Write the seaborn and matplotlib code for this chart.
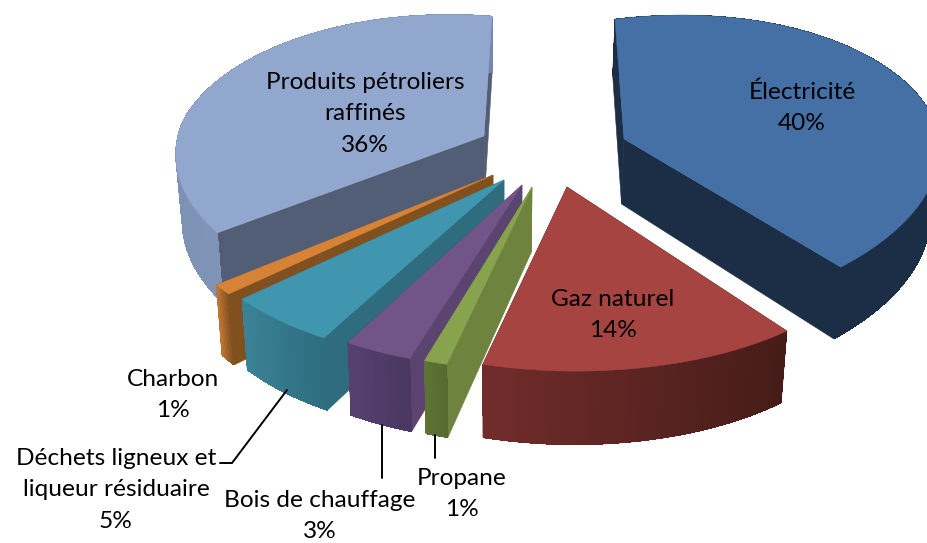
import numpy as np
import matplotlib
matplotlib.use("Agg")
import matplotlib.pyplot as plt
from matplotlib.collections import PolyCollection
import seaborn as sns

# ---- data ----
names = ["Électricité", "Gaz naturel", "Propane", "Bois de chauffage",
         "Déchets ligneux et\nliqueur résiduaire", "Charbon",
         "Produits pétroliers\nraffinés"]
shares = [40, 14, 1, 3, 5, 1, 36]

# ---- colours: top face, radial wall, outer wall (light end, dark end) ----
top_col = ["#4470A6", "#A64442", "#87A34D", "#715589", "#4096AE", "#D68237", "#92A7CE"]
wall_col = ["#1C2E46", "#451C19", "#6D833E", "#5B446F", "#2F6C7E", "#81501F", "#525E75"]
outer_a = ["#1C2E46", "#451C19", "#566A32", "#4A3860", "#2E6E80", "#81501F", "#8094B8"]
outer_b = ["#1C2E46", "#702C2A", "#5E7236", "#564070", "#3C8296", "#BC7432", "#7488AC"]

# ---- layout of each slice (pixels) ----
apex_x = [624, 567, 532, 522, 504, 493, 484]
apex_y = [139, 187, 187, 185, 180, 175, 136]
scale_x = [1.02, 1.0, 1.0, 1.0, 1.02, 1.03, 1.0]
tilt = [-27, 0, 0, 0, 0, 0, 17]
lean_back = [9, 0, 0, 0, 0, 0, -8]
lean_front = [0, 9, 8, 3, 0, 0, 3]
label_xy = [(802, 108), (613, 315), (462, 494), (320, 516), (116, 490), (173, 395), (365, 114)]
draw_order = [6, 5, 4, 3, 2, 1, 0]

RX, RY, KX, KY = 300.0, 152.0, 0.254, 0.2115
VANISH_X = 500.0


def top_point(i, theta):
    u, v = np.sin(theta), -np.cos(theta)
    lean = lean_back[i] * np.minimum(v, 0) + lean_front[i] * np.maximum(v, 0)
    x = apex_x[i] + RX * scale_x[i] * u * (1 + KX * v) + lean
    y = apex_y[i] + RY * v * (1 + KY * v) + tilt[i] * u
    return x, y, v


def bottom_point(x, y, v):
    return x + (VANISH_X - x) * 0.02, y + 65 + 8.5 * v


sns.set_theme(style="white")
plt.rcParams["font.family"] = ["Lato", "DejaVu Sans"]
fig = plt.figure(figsize=(9.28, 5.43), dpi=100)
ax = fig.add_axes([0, 0, 1, 1])
ax.set_xlim(0, 928)
ax.set_ylim(543, 0)
ax.axis("off")

edges = np.concatenate([[0], np.cumsum(shares)]) / sum(shares) * 2 * np.pi

for i in draw_order:
    t0, t1 = edges[i], edges[i + 1]
    n = max(int(np.degrees(t1 - t0)), 8)
    th = np.linspace(t0, t1, n * 4 + 1)
    xs, ys, vs = top_point(i, th)
    bx, by = bottom_point(xs, ys, vs)
    ax0, ay0 = apex_x[i], apex_y[i]
    bax, bay = bottom_point(ax0, ay0, 0.0)
    base = draw_order.index(i) * 10

    # radial walls: the far one first
    for k in (-1, 0):
        ax.fill([ax0, xs[k], bx[k], bax], [ay0, ys[k], by[k], bay],
                color=wall_col[i], lw=0.4, zorder=base + 1)
    # outer wall: one solid underlay, then overlapping shaded bands
    shades = sns.blend_palette([outer_a[i], outer_b[i]], n)
    ax.fill(np.r_[xs, bx[::-1]], np.r_[ys, by[::-1]], color=shades[n // 2], lw=0.4, zorder=base + 2)
    quads = []
    for j in range(n):
        a, b = j * 4, (j + 1) * 4 + 1
        quads.append(np.column_stack([np.r_[xs[a:b], bx[a:b][::-1]], np.r_[ys[a:b], by[a:b][::-1]]]))
    ax.add_collection(PolyCollection(quads, facecolors=shades, edgecolors="none", antialiaseds=False,
                                     zorder=base + 2))
    # top face
    ax.fill(np.r_[ax0, xs], np.r_[ay0, ys], color=top_col[i], lw=0.3, zorder=base + 3)

# ---- labels ----
for name, share, (lx, ly) in zip(names, shares, label_xy):
    ax.text(lx, ly, f"{name}\n{share}%", ha="center", va="center", fontsize=17.6,
            linespacing=1.6, color="black", zorder=200)

# ---- leader lines ----
leaders = [([287, 232, 220], [390, 463, 463]), ([382, 382], [425, 478]), ([435, 435], [435, 458])]
for lx, ly in leaders:
    ax.plot(lx, ly, color="black", lw=1.4, zorder=190, solid_joinstyle="miter")

fig.savefig("out.png", dpi=100)
